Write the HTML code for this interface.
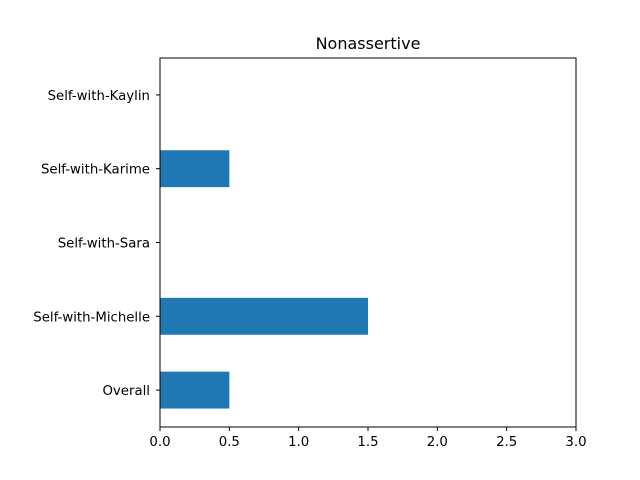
<!DOCTYPE html>
<html><head><meta charset="utf-8"><style>
body{margin:0;background:#fff;}
svg{display:block;font-family:"DejaVu Sans","Liberation Sans",sans-serif;}
</style></head><body>
<svg id="chart" width="640" height="480">
<rect width="640" height="480" fill="#fff"/>
<text x="368" y="49" font-size="16" text-anchor="middle">Nonassertive</text>
<g id="bars"></g>
<g id="xticks"></g>
<g id="yticks"></g>
<rect x="160" y="58" width="416" height="369" fill="none" stroke="#000" stroke-width="1"/>
</svg>
<script>
const categories = ["Overall","Self-with-Michelle","Self-with-Sara","Self-with-Karime","Self-with-Kaylin"];
const values = [0.5,1.5,0,0.5,0];
const xTicks = [0,0.5,1,1.5,2,2.5,3];
const xTickLabels = ["0.0","0.5","1.0","1.5","2.0","2.5","3.0"];
const L=160,R=576,T=58,B=427,XMAX=3;
const ns="http://www.w3.org/2000/svg";
function x(v){return L+(R-L)*v/XMAX;}
function y(i){return B-(B-T)*(i+0.5)/categories.length;}
const band=(B-T)/categories.length;
const bars=document.getElementById('bars');
values.forEach((v,i)=>{
  const r=document.createElementNS(ns,'rect');
  r.setAttribute('x',x(0));r.setAttribute('y',y(i)-band*0.25);
  r.setAttribute('width',x(v)-x(0));r.setAttribute('height',band*0.5);
  r.setAttribute('fill','#1f77b4');
  
  
  bars.appendChild(r);
});
const xt=document.getElementById('xticks');
xTicks.forEach((t,i)=>{
  const l=document.createElementNS(ns,'line');
  l.setAttribute('x1',x(t));l.setAttribute('x2',x(t));l.setAttribute('y1',B);l.setAttribute('y2',B+4);
  l.setAttribute('stroke','#000');
  
  
  xt.appendChild(l);
  const s=document.createElementNS(ns,'text');
  s.setAttribute('x',x(t));s.setAttribute('y',B+19);s.setAttribute('font-size','13.3');s.setAttribute('text-anchor','middle');
  s.textContent=xTickLabels[i];
  
  
  xt.appendChild(s);
});
const yt=document.getElementById('yticks');
categories.forEach((c,i)=>{
  const l=document.createElementNS(ns,'line');
  l.setAttribute('x1',L-4);l.setAttribute('x2',L);l.setAttribute('y1',y(i));l.setAttribute('y2',y(i));
  l.setAttribute('stroke','#000');
  
  
  yt.appendChild(l);
  const s=document.createElementNS(ns,'text');
  s.setAttribute('x',L-10);s.setAttribute('y',y(i)+5);s.setAttribute('font-size','13.3');s.setAttribute('text-anchor','end');
  s.textContent=c;
  
  
  yt.appendChild(s);
});
</script>
</body></html>
